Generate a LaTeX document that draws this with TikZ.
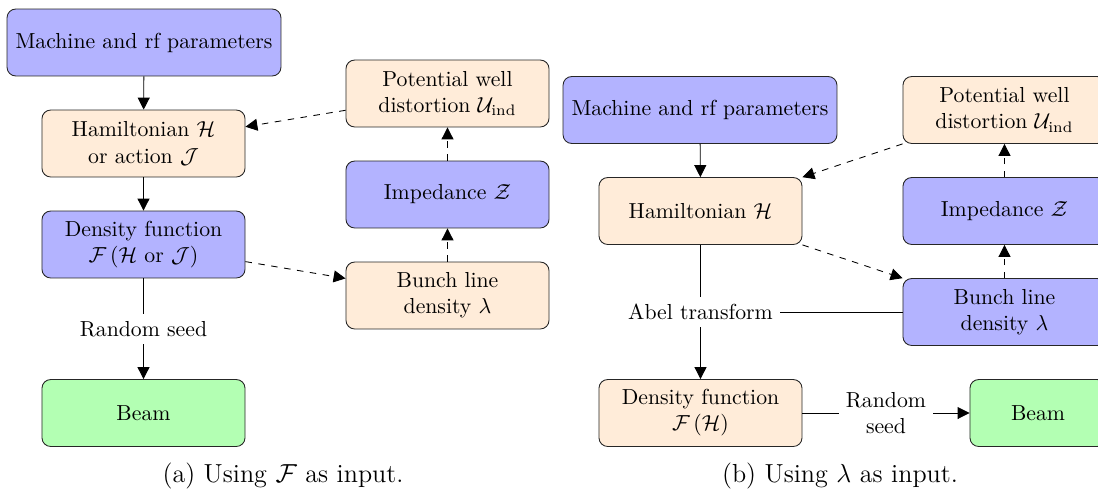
\documentclass[tikz,border=0pt]{standalone}
\usepackage{amsmath}
\usetikzlibrary{arrows.meta}
\definecolor{boxblue}{RGB}{179,179,255}
\definecolor{boxorange}{RGB}{255,236,217}
\definecolor{boxgreen}{RGB}{179,255,179}
\begin{document}
\begin{tikzpicture}[x=0.46pt,y=-0.46pt,
  box/.style={draw=black!85, rounded corners=4pt, minimum width=93.4pt,
    minimum height=30.8pt, align=center, inner sep=2pt},
  bluebox/.style={box, fill=boxblue},
  orangebox/.style={box, fill=boxorange},
  greenbox/.style={box, fill=boxgreen},
  arr/.style={-{Triangle[length=5.5pt,width=5.5pt]}},
  lbl/.style={fill=white, align=center}]
\useasboundingbox (0,0) rectangle (1098,491);
\clip (0,0) rectangle (1098,491);

% (a) density function given as input
\node[bluebox, minimum width=126pt] (ma) at (144,42.5) {Machine and rf parameters};
\node[orangebox] (ha) at (143.5,143.5) {Hamiltonian $\mathcal{H}$\\or action $\mathcal{J}$};
\node[bluebox] (da) at (143.5,244.5) {Density function\\$\mathcal{F}\,(\mathcal{H}\text{ or }\mathcal{J})$};
\node[greenbox] (ba) at (143.5,413) {Beam};
\node[orangebox] (pa) at (447.5,93.5) {Potential well\\distortion $\mathcal{U}_\text{ind}$};
\node[bluebox] (ia) at (447.5,194.5) {Impedance $\mathcal{Z}$};
\node[orangebox] (la) at (447.5,295.5) {Bunch line\\density $\lambda$};

\draw[arr] (ma) -- (ha);
\draw[arr] (ha) -- (da);
\draw[arr] (da) -- node[lbl] (rsa) {Random seed} (ba);
\draw[arr, dashed] (pa) -- (ha);
\draw[arr, dashed] (da) -- (la);
\draw[arr, dashed] (la) -- (ia);
\draw[arr, dashed] (ia) -- (pa);

\node[font=\large] (capa) at (283,476) {(a) Using $\mathcal{F}$ as input.};

% (b) line density given as input
\node[bluebox, minimum width=126pt] (mb) at (700,110) {Machine and rf parameters};
\node[orangebox] (hb) at (700.5,211) {Hamiltonian $\mathcal{H}$};
\node[orangebox] (db) at (700.5,413) {Density function\\$\mathcal{F}\,(\mathcal{H})$};
\node[orangebox] (pb) at (1004.5,110) {Potential well\\distortion $\mathcal{U}_\text{ind}$};
\node[bluebox] (ib) at (1004.5,211) {Impedance $\mathcal{Z}$};
\node[bluebox] (lb) at (1004.5,312) {Bunch line\\density $\lambda$};
\node[greenbox, minimum width=62.6pt] (bb) at (1038,413) {Beam};

\draw[arr] (mb) -- (hb);
\draw[arr] (hb) -- node[lbl] (abel) {Abel transform} (db);
\draw (lb) -- (abel);
\draw[arr] (db) -- node[lbl] (rsb) {Random\\seed} (bb);
\draw[arr, dashed] (pb) -- (hb);
\draw[arr, dashed] (hb) -- (lb);
\draw[arr, dashed] (lb) -- (ib);
\draw[arr, dashed] (ib) -- (pb);

\node[font=\large] (capb) at (840,476) {(b) Using $\lambda$ as input.};
\end{tikzpicture}
\end{document}
